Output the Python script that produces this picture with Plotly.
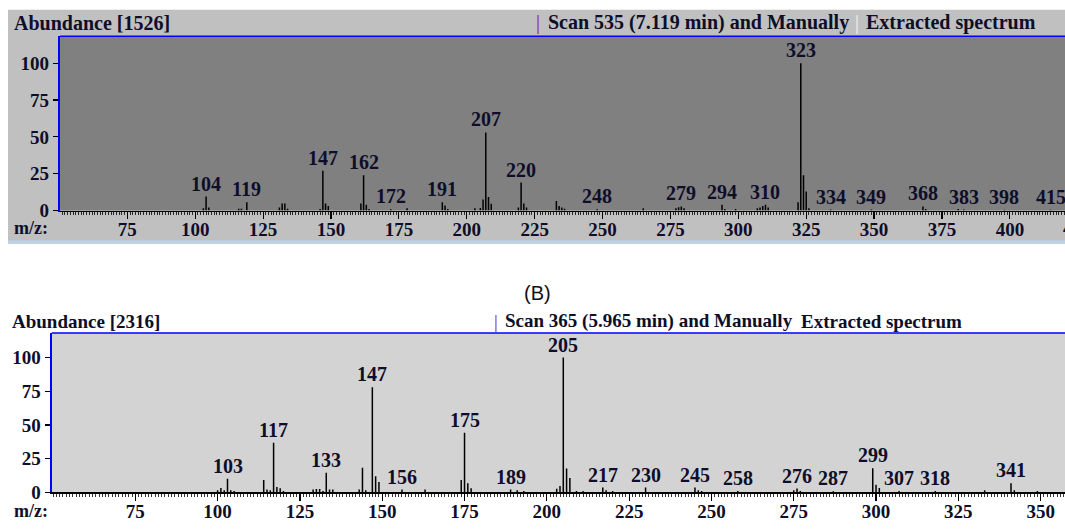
import plotly.graph_objects as go

# ---------------- data ----------------
# Spectrum A (Scan 535)
mz_a = [103, 104, 105, 116, 117, 119, 131, 132, 133, 134, 146, 147, 148, 149,
        161, 162, 163, 164, 172, 178, 191, 192, 193, 203, 205, 206, 207, 208, 209,
        219, 220, 221, 222, 233, 234, 235, 236, 248, 265, 277, 278, 279, 280,
        294, 295, 299, 307, 308, 309, 310, 311, 322, 323, 324, 325, 326,
        334, 349, 368, 369, 381, 383, 398, 415]
ab_a = [1.5, 9.5, 2, 1.2, 1.2, 5.7, 2, 4.8, 4.8, 1.2, 1, 27, 4.8, 3,
        4.8, 24, 3.9, 1, 0.8, 1.5, 5.7, 3.5, 1, 1.5, 1.8, 7.5, 53, 9.2, 4.6,
        2, 19, 4.8, 2, 6.4, 3, 2, 1.2, 0.9, 1.5, 1.5, 2.2, 2.8, 1.5,
        3.9, 1, 1, 1.5, 2, 3, 3.9, 2, 5.7, 100, 24, 13, 1.5,
        0.7, 0.7, 2.8, 1, 1, 0.7, 0.6, 0.6]
labels_a = [104, 119, 147, 162, 172, 191, 207, 220, 248, 279, 294, 310,
            323, 334, 349, 368, 383, 398, 415]
ticks_a = [75, 100, 125, 150, 175, 200, 225, 250, 275, 300, 325, 350, 375, 400]
cut_tick_a = 425

# Spectrum B (Scan 365)
mz_b = [100, 101, 102, 103, 104, 105, 114, 115, 116, 117, 118, 119, 120,
        129, 130, 131, 132, 133, 134, 135, 143, 144, 145, 147, 148, 149,
        156, 163, 174, 175, 176, 177, 189, 191, 193, 203, 204, 205, 206, 207,
        209, 211, 217, 218, 220, 230, 245, 246, 247, 258, 275, 276, 277, 287,
        299, 300, 301, 307, 318, 333, 341, 342, 349]
ab_b = [1.5, 3.2, 1.5, 10, 1.5, 1, 9.2, 2, 1.5, 36.7, 4, 3, 1,
        2, 2.5, 2.5, 1, 14.6, 2, 2, 2, 18.2, 1.5, 78, 12, 7.6,
        2, 2, 9.2, 44.2, 6.8, 3, 2, 1.5, 1, 2.6, 4.7, 100, 17.6, 10.7,
        1, 1, 3.5, 1.5, 1, 3.5, 3.5, 1.5, 1, 1, 1.5, 2.8, 1, 0.8,
        17.8, 5.6, 3.2, 1, 1, 1.5, 6.8, 1.5, 1]
labels_b = [103, 117, 133, 147, 156, 175, 189, 205, 217, 230, 245, 258,
            276, 287, 299, 307, 318, 341]
ticks_b = [75, 100, 125, 150, 175, 200, 225, 250, 275, 300, 325, 350]

y_ticks = [0, 25, 50, 75, 100]

header_a = ("Abundance [1526]", "Scan 535 (7.119 min) and Manually", "Extracted spectrum")
header_b = ("Abundance [2316]", "Scan 365 (5.965 min) and Manually", "Extracted spectrum")
panel_b_title = "(B)"

# ---------------- layout geometry ----------------
W, H = 1065, 531
SERIF = "Liberation Serif"
INK = "#0e0e2a"
BLUE = "#0000ff"


def px(x):
    return x / W


def py(y):
    return 1 - y / H


xr_a = [50.2, 420.3]
xr_b = [49.6, 357.4]
yr = [0, 118.3]
dom_xa = [px(60), 1]
dom_ya = [py(215), py(37)]
dom_xb = [px(51.7), 1]
dom_yb = [py(502.7), py(340)]


def stems(mz, ab):
    xs, ys = [], []
    for m, a in zip(mz, ab):
        xs += [m, m, None]
        ys += [0, a, None]
    return xs, ys


fig = go.Figure()
xa, ya = stems(mz_a, ab_a)
xb, yb = stems(mz_b, ab_b)
fig.add_trace(go.Scatter(x=xa, y=ya, mode="lines", line=dict(color="black", width=1.5),
                         xaxis="x", yaxis="y", hoverinfo="skip", showlegend=False))
fig.add_trace(go.Scatter(x=xb, y=yb, mode="lines", line=dict(color="black", width=1.5),
                         xaxis="x2", yaxis="y2", hoverinfo="skip", showlegend=False))

tick_font = dict(family=SERIF, size=19, color=INK, weight="bold")


def xaxis_cfg(rng, dom, anchor, tickvals):
    return dict(range=rng, domain=dom, anchor=anchor, tickvals=tickvals,
                ticks="outside", ticklen=7, tickwidth=1.2, tickcolor="black",
                ticklabelstandoff=-6,
                showline=True, linecolor="black", linewidth=1.5,
                showgrid=False, zeroline=False, tickfont=tick_font,
                minor=dict(dtick=1, tick0=0, ticks="outside", ticklen=3,
                           tickwidth=0.8, tickcolor="black", showgrid=False),
                fixedrange=True)


def yaxis_cfg(dom, anchor):
    return dict(range=yr, domain=dom, anchor=anchor, tickvals=y_ticks,
                ticks="outside", ticklen=5, tickwidth=1.2, tickcolor="black",
                showline=True, linecolor=BLUE, linewidth=2.2,
                showgrid=False, zeroline=False, tickfont=tick_font,
                fixedrange=True)


shapes = [
    # outer frame of spectrum A
    dict(type="rect", xref="paper", yref="paper", x0=px(8), x1=1, y0=py(249), y1=py(10),
         fillcolor="#c0c0c0", line=dict(width=0), layer="below"),
    dict(type="rect", xref="paper", yref="paper", x0=px(8), x1=1, y0=py(249), y1=py(245.5),
         fillcolor="#bcd3ea", line=dict(width=0), layer="below"),
    # plot areas
    dict(type="rect", xref="x domain", yref="y domain", x0=0, x1=1, y0=0, y1=1,
         fillcolor="#808080", line=dict(width=0), layer="below"),
    dict(type="rect", xref="x2 domain", yref="y2 domain", x0=0, x1=1, y0=0, y1=1,
         fillcolor="#d3d3d3", line=dict(width=0), layer="below"),
    # blue top borders
    dict(type="line", xref="x domain", yref="y domain", x0=0, x1=1, y0=1, y1=1,
         line=dict(color=BLUE, width=1.5)),
    dict(type="line", xref="x2 domain", yref="y2 domain", x0=0, x1=1, y0=1, y1=1,
         line=dict(color=BLUE, width=1.5)),
]

ann = []
lab_font = dict(family=SERIF, size=20, color=INK, weight="bold")

# peak labels
for mz, ab, labels, xr_, yr_ in ((mz_a, ab_a, labels_a, "x", "y"),
                                (mz_b, ab_b, labels_b, "x2", "y2")):
    lookup = dict(zip(mz, ab))
    for m in labels:
        ann.append(dict(x=m, y=lookup[m], xref=xr_, yref=yr_, text=str(m),
                        showarrow=False, yanchor="bottom", xanchor="center",
                        yshift=0, font=lab_font))


def ptext(x, y, text, size=20, color=INK, anchor="left", family=SERIF, weight="bold"):
    ann.append(dict(x=px(x), y=py(y), xref="paper", yref="paper", text=text,
                    showarrow=False, xanchor=anchor, yanchor="middle",
                    font=dict(family=family, size=size, color=color, weight=weight)))


# headers, spectrum A
ptext(12, 23, header_a[0])
ptext(534, 23, "|", color="#8b1a8b", weight="normal")
ptext(546, 23, header_a[1])
ptext(853, 23, "|", color="#f0f0f0", weight="normal")
ptext(864, 23, header_a[2])
ptext(12, 233, "m/z:", size=18)
# partially visible tick label past the right edge of axis A
frac = (cut_tick_a - xr_a[0]) / (xr_a[1] - xr_a[0])
ann.append(dict(x=dom_xa[0] + frac * (dom_xa[1] - dom_xa[0]), y=py(232), xref="paper",
                yref="paper", text=str(cut_tick_a), showarrow=False, xanchor="center",
                yanchor="middle", font=tick_font))

# headers, spectrum B
ptext(537, 299, panel_b_title, size=20, color="#111111", anchor="center",
      family="Liberation Sans", weight="normal")
ptext(10, 328, header_b[0], size=19)
ptext(492, 328, "|", size=19, color="#8b1a8b", weight="normal")
ptext(503, 328, header_b[1], size=19)
ptext(799, 328, header_b[2], size=19)
ptext(12, 522, "m/z:", size=18)

fig.update_layout(
    width=W, height=H,
    margin=dict(l=0, r=0, t=0, b=0),
    paper_bgcolor="white", plot_bgcolor="rgba(0,0,0,0)",
    xaxis=xaxis_cfg(xr_a, dom_xa, "y", ticks_a),
    yaxis=yaxis_cfg(dom_ya, "x"),
    xaxis2=xaxis_cfg(xr_b, dom_xb, "y2", ticks_b),
    yaxis2=yaxis_cfg(dom_yb, "x2"),
    shapes=shapes,
    annotations=ann,
    showlegend=False,
)

fig.write_html("out.html", config=dict(displayModeBar=False, staticPlot=True))
